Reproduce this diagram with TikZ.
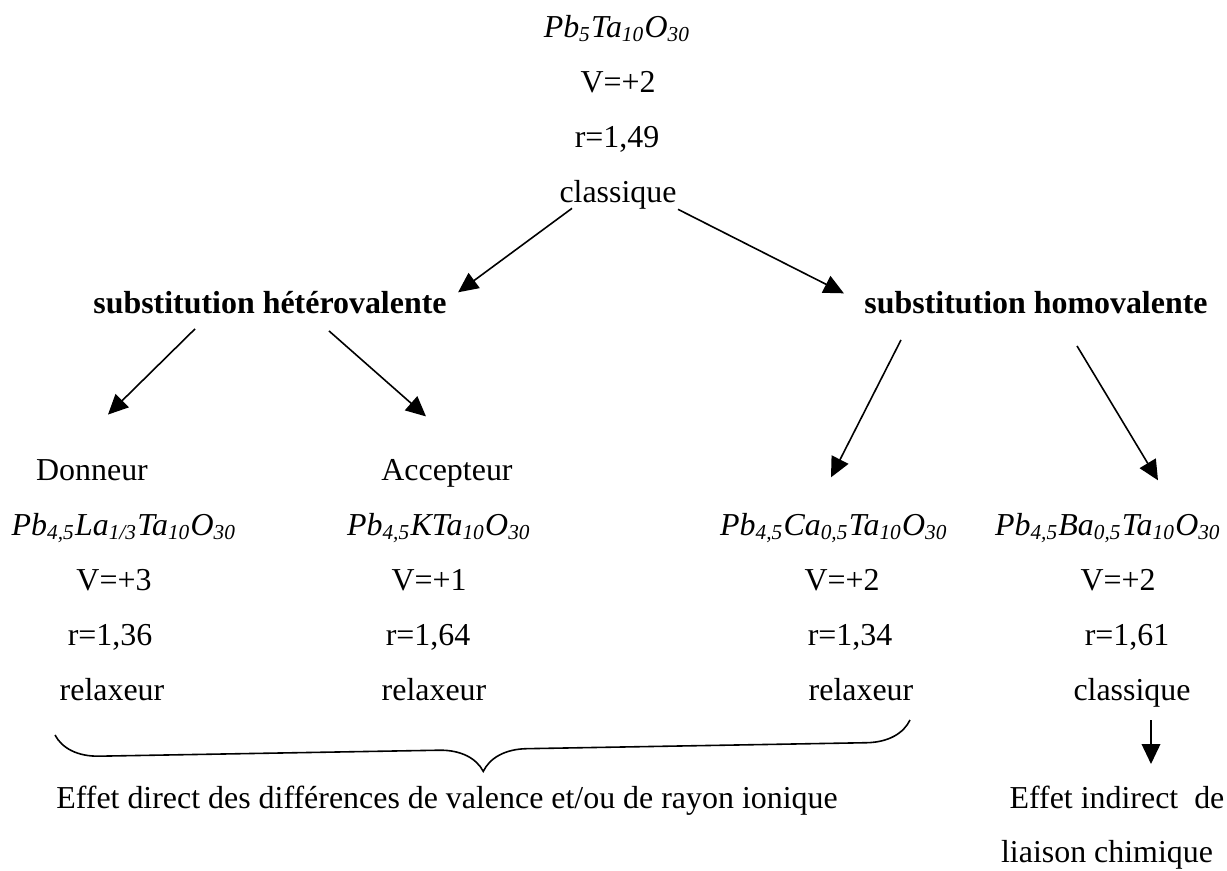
\documentclass[tikz,border=0pt]{standalone}
\usepackage{fontspec}
\setmainfont{Liberation Serif}
\usepackage{tikz}
\usetikzlibrary{arrows.meta,calc,positioning}
\usetikzlibrary{decorations.pathreplacing}
\newcommand{\subsc}[1]{\textsubscript{#1}}

\begin{document}
\begin{tikzpicture}[
    x=0.01322cm, y=-0.01322cm,
    every node/.style={inner sep=0pt, anchor=base, font=\fontsize{12}{14}\selectfont},
    formula/.style={font=\fontsize{12}{14}\selectfont\itshape},
    branch/.style={font=\fontsize{12}{14}\selectfont\bfseries},
    sigarrow/.style={-{Triangle[length=7.5pt,width=7pt]}, line width=0.6pt},
    bracebelow/.style={decorate, decoration={brace, amplitude=16.5pt}, line width=0.6pt}
]
        \useasboundingbox (0,0) rectangle (1227,870);

        % parent compound
        \node[formula, name=top] at(617,37) {Pb\subsc{5}Ta\subsc{10}O\subsc{30}};
        \node[name=topV] at(618,92) {V=+2};
        \node[name=topr] at(617,147) {r=1,49};
        \node[name=topcl] at(618,202) {classique};

        \node[branch, name=het] at(270,313) {substitution hétérovalente};
        \node[branch, name=hom] at(1036,313) {substitution homovalente};

        % heterovalent
        \node[name=don] at(92,480) {Donneur};
        \node[formula, name=laf] at(124,535) {Pb\subsc{4,5}La\subsc{1/3}Ta\subsc{10}O\subsc{30}};
        \node[name=laV] at(114,590) {V=+3};
        \node[name=lar] at(110,645) {r=1,36};
        \node[name=larel] at(112,700) {relaxeur};

        \node[name=acc] at(447,480) {Accepteur};
        \node[formula, name=kf] at(439,535) {Pb\subsc{4,5}KTa\subsc{10}O\subsc{30}};
        \node[name=kV] at(429,590) {V=+1};
        \node[name=kr] at(428,645) {r=1,64};
        \node[name=krel] at(434,700) {relaxeur};

        % homovalent
        \node[formula, name=caf] at(834,535) {Pb\subsc{4,5}Ca\subsc{0,5}Ta\subsc{10}O\subsc{30}};
        \node[name=caV] at(842,590) {V=+2};
        \node[name=car] at(850,645) {r=1,34};
        \node[name=carel] at(861,700) {relaxeur};

        \node[formula, name=baf] at(1108,535) {Pb\subsc{4,5}Ba\subsc{0,5}Ta\subsc{10}O\subsc{30}};
        \node[name=baV] at(1118,590) {V=+2};
        \node[name=bar] at(1127,645) {r=1,61};
        \node[name=bacl] at(1132,700) {classique};

        % effects
        \node[name=direct] at(447,808) {Effet direct des différences de valence et/ou de rayon ionique};
        \node[name=ind] at(1117,808) {Effet indirect\ \ de};
        \node[name=liai] at(1107,862) {liaison chimique};

        \draw[sigarrow] ($(topcl.south)+(-46,-1)$) -- ($(het.north east)+(11,2)$);
        \draw[sigarrow] ($(topcl.south east)+(1,0)$) -- ($(hom.north west)+(-20,3)$);

        \draw[sigarrow] ($(het.south)+(-75,15)$) -- ($(don.north)+(16,-44)$);
        \draw[sigarrow] ($(het.south)+(59,17)$) -- ($(acc.north)+(-21,-42)$);

        \draw[sigarrow] ($(hom.south)+(-135,26)$) -- ($(caf.north)+(-3,-35)$);
        \draw[sigarrow] ($(hom.south)+(41,32)$) -- ($(baf.north)+(50,-32)$);

        \draw[sigarrow] ($(bacl.south)+(19,13)$) -- ($(ind.north)+(34,-21)$);

        \draw[bracebelow] (910,720) -- (55,735);

\end{tikzpicture}
\end{document}
